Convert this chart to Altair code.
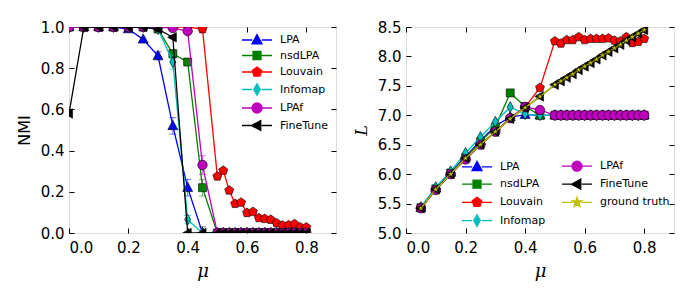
import math
import altair as alt
import pandas as pd

# ---------------- data ----------------
MU = [0.0, 0.05, 0.1, 0.15, 0.2, 0.25, 0.3, 0.35, 0.4, 0.45,
      0.5, 0.52, 0.54, 0.56, 0.58, 0.6, 0.62, 0.64, 0.66, 0.68,
      0.7, 0.72, 0.74, 0.76, 0.78, 0.8]
MU_L = MU[1:]

SERIES_NMI = ["LPA", "nsdLPA", "Louvain", "Infomap", "LPAf", "FineTune"]
SERIES_L = ["LPA", "nsdLPA", "Louvain", "Infomap", "LPAf", "FineTune", "ground truth"]

NMI_LPA = [1.0, 1.0, 1.0, 1.0, 0.99, 0.94, 0.86, 0.52, 0.22, 0.0,
           0.0, 0.0, 0.0, 0.0, 0.0, 0.0, 0.0, 0.0, 0.0, 0.0,
           0.0, 0.0, 0.0, 0.0, 0.0, 0.0]
NMI_NSDLPA = [1.0, 1.0, 1.0, 1.0, 1.0, 1.0, 0.99, 0.87, 0.83, 0.22,
              0.0, 0.0, 0.0, 0.0, 0.0, 0.0, 0.0, 0.0, 0.0, 0.0,
              0.0, 0.0, 0.0, 0.0, 0.0, 0.0]
NMI_LOUVAIN = [1.0, 1.0, 1.0, 1.0, 1.0, 1.0, 1.0, 1.0, 1.0, 0.99,
               0.275, 0.303, 0.207, 0.142, 0.148, 0.098, 0.103, 0.073, 0.069, 0.065,
               0.048, 0.037, 0.039, 0.044, 0.028, 0.028]
NMI_INFOMAP = [1.0, 1.0, 1.0, 1.0, 1.0, 1.0, 0.99, 0.83, 0.065, 0.0,
               0.0, 0.0, 0.0, 0.0, 0.0, 0.0, 0.0, 0.0, 0.0, 0.0,
               0.0, 0.0, 0.0, 0.0, 0.0, 0.0]
NMI_LPAF = [1.0, 1.0, 1.0, 1.0, 1.0, 1.0, 1.0, 0.995, 0.98, 0.33,
            0.0, 0.0, 0.0, 0.0, 0.0, 0.0, 0.0, 0.0, 0.0, 0.0,
            0.0, 0.0, 0.0, 0.0, 0.0, 0.0]
NMI_FINETUNE = [0.58, 1.0, 1.0, 1.0, 1.0, 1.0, 0.99, 0.95, 0.0, 0.0,
                0.0, 0.0, 0.0, 0.0, 0.0, 0.0, 0.0, 0.0, 0.0, 0.0,
                0.0, 0.0, 0.0, 0.0, 0.0, 0.0]

# visible error bars on the NMI panel
ERR_SERIES = ["LPA", "LPA", "LPA", "nsdLPA", "nsdLPA", "Infomap", "Infomap", "LPAf", "FineTune"]
ERR_MU = [0.3, 0.35, 0.4, 0.35, 0.45, 0.35, 0.4, 0.45, 0.45]
ERR_VAL = [0.02, 0.04, 0.04, 0.02, 0.04, 0.035, 0.02, 0.045, 0.03]
ERR_Y = [0.86, 0.52, 0.22, 0.87, 0.22, 0.83, 0.065, 0.33, 0.0]

L_LPA = [5.43, 5.76, 6.03, 6.30, 6.57, 6.82, 6.97, 7.01, 7.00,
         7.0, 7.0, 7.0, 7.0, 7.0, 7.0, 7.0, 7.0, 7.0, 7.0,
         7.0, 7.0, 7.0, 7.0, 7.0, 7.0]
L_NSDLPA = [5.43, 5.75, 6.02, 6.28, 6.55, 6.80, 7.38, 7.15, 7.00,
            7.0, 7.0, 7.0, 7.0, 7.0, 7.0, 7.0, 7.0, 7.0, 7.0,
            7.0, 7.0, 7.0, 7.0, 7.0, 7.0]
L_LOUVAIN = [5.42, 5.74, 6.00, 6.26, 6.50, 6.72, 6.95, 7.14, 7.47,
             8.26, 8.22, 8.28, 8.28, 8.33, 8.28, 8.30, 8.30, 8.30, 8.31,
             8.27, 8.26, 8.33, 8.23, 8.25, 8.30]
L_INFOMAP = [5.44, 5.78, 6.05, 6.36, 6.63, 6.89, 7.14, 7.02, 7.00,
             7.0, 7.0, 7.0, 7.0, 7.0, 7.0, 7.0, 7.0, 7.0, 7.0,
             7.0, 7.0, 7.0, 7.0, 7.0, 7.0]
L_LPAF = [5.42, 5.73, 6.00, 6.25, 6.50, 6.72, 6.95, 7.14, 7.09,
          7.0, 7.0, 7.0, 7.0, 7.0, 7.0, 7.0, 7.0, 7.0, 7.0,
          7.0, 7.0, 7.0, 7.0, 7.0, 7.0]
L_FINETUNE = [5.42, 5.74, 6.00, 6.27, 6.50, 6.72, 6.94, 7.13, 7.32,
              7.52, 7.58, 7.64, 7.70, 7.77, 7.83, 7.89, 7.95, 8.02, 8.08,
              8.14, 8.20, 8.27, 8.33, 8.39, 8.45]
L_TRUTH = [5.42, 5.74, 6.00, 6.27, 6.50, 6.72, 6.94, 7.13, 7.32,
           7.52, 7.58, 7.64, 7.70, 7.77, 7.83, 7.89, 7.95, 8.02, 8.08,
           8.14, 8.20, 8.27, 8.33, 8.39, 8.45]

X_TICKS = [0.0, 0.2, 0.4, 0.6, 0.8]
NMI_TICKS = [0.0, 0.2, 0.4, 0.6, 0.8, 1.0]
L_TICKS = [5.0, 5.5, 6.0, 6.5, 7.0, 7.5, 8.0, 8.5]

# ---------------- styles ----------------
COLORS = {"LPA": "#0000ff", "nsdLPA": "#008000", "Louvain": "#ff0000",
          "Infomap": "#00bfbf", "LPAf": "#bf00bf", "FineTune": "#000000",
          "ground truth": "#bfbf00"}


def poly(pts):
    return "M" + "L".join(f"{x:.3f},{y:.3f}" for x, y in pts) + "Z"


PENT = poly([(math.cos(math.radians(-90 + 72 * k)), math.sin(math.radians(-90 + 72 * k))) for k in range(5)])
STAR = poly([((1.0 if k % 2 == 0 else 0.382) * math.cos(math.radians(-90 + 36 * k)),
              (1.0 if k % 2 == 0 else 0.382) * math.sin(math.radians(-90 + 36 * k))) for k in range(10)])
SHAPES = {
    "LPA": "M0,-1.1L1,0.75L-1,0.75Z",
    "nsdLPA": "M-0.8,-0.8H0.8V0.8H-0.8Z",
    "Louvain": PENT,
    "Infomap": "M0,-1.15L0.65,0L0,1.15L-0.65,0Z",
    "LPAf": "M1,0A1,1 0 1,1 -1,0A1,1 0 1,1 1,0Z",
    "FineTune": "M-1.1,0L0.75,-1L0.75,1Z",
    "ground truth": STAR,
}
SIZES = {"LPA": 100, "nsdLPA": 100, "Louvain": 90, "Infomap": 90, "LPAf": 90,
         "FineTune": 90, "ground truth": 55}

LINE_PART = "M-3,0H-0.95M0.95,0H3"


def legend_path(s):
    return LINE_PART + SHAPES[s]


FONT = "DejaVu Sans"


def long_frame(mu, series, values):
    rows = []
    for s, vals in zip(series, values):
        for m, v in zip(mu, vals):
            rows.append({"mu": m, "v": v, "series": s})
    return pd.DataFrame(rows)


def panel(df, series, ydomain, yticks, ytitle, ytitle_font, ytitle_style,
          legend_domain, legend_cfg, err_df=None):
    xscale = alt.Scale(domain=[0, 0.9], nice=False, zero=False)
    yscale = alt.Scale(domain=ydomain, nice=False, zero=False)
    base = alt.Chart(df)
    layers = []

    # axes carrier (bottom/left)
    layers.append(base.mark_point(opacity=0).encode(
        x=alt.X("mu:Q", scale=xscale, axis=alt.Axis(
            values=X_TICKS, format=".1f", title="μ", offset=-5, tickSize=5,
            domain=False, grid=False, labelPadding=7, titlePadding=7,
            titleFont="DejaVu Serif", titleFontStyle="italic", titleFontSize=18,
            titleFontWeight="normal", labelFont=FONT, labelFontSize=15,
            tickColor="black", labelColor="black", titleColor="black")),
        y=alt.Y("v:Q", scale=yscale, axis=alt.Axis(
            values=yticks, format=".1f", title=ytitle, offset=-5, tickSize=5,
            domain=False, grid=False, labelPadding=5, titlePadding=8,
            titleFont=ytitle_font, titleFontStyle=ytitle_style, titleFontSize=16,
            titleFontWeight="normal", labelFont=FONT, labelFontSize=15,
            tickColor="black", labelColor="black", titleColor="black")),
    ))

    for s in series:
        sub = base.transform_filter(alt.datum.series == s)
        c = COLORS[s]
        if err_df is not None and s in set(err_df["series"]):
            e = alt.Chart(err_df[err_df["series"] == s])
            layers.append(e.mark_rule(color=c, opacity=0.55, strokeWidth=1, clip=True).encode(
                x=alt.X("mu:Q", scale=xscale, axis=None),
                y=alt.Y("lo:Q", scale=yscale, axis=None), y2="hi:Q"))
            layers.append(e.mark_tick(color=c, opacity=0.55, thickness=1, size=7,
                                      orient="horizontal", clip=True).encode(
                x=alt.X("mu:Q", scale=xscale, axis=None),
                y=alt.Y("lo:Q", scale=yscale, axis=None)))
            layers.append(e.mark_tick(color=c, opacity=0.55, thickness=1, size=7,
                                      orient="horizontal", clip=True).encode(
                x=alt.X("mu:Q", scale=xscale, axis=None),
                y=alt.Y("hi:Q", scale=yscale, axis=None)))
        layers.append(sub.mark_line(color=c, strokeWidth=1.3, clip=True).encode(
            x=alt.X("mu:Q", scale=xscale, axis=None),
            y=alt.Y("v:Q", scale=yscale, axis=None)))
        layers.append(sub.mark_point(shape=SHAPES[s], filled=True, fill=c, stroke="black",
                                     strokeWidth=0.6, size=SIZES[s], opacity=1, clip=True).encode(
            x=alt.X("mu:Q", scale=xscale, axis=None),
            y=alt.Y("v:Q", scale=yscale, axis=None)))

    # top / right inward ticks
    layers.append(base.mark_point(opacity=0).encode(
        x=alt.X("mu:Q", scale=xscale, axis=alt.Axis(
            orient="top", values=X_TICKS, labels=False, title=None, offset=-5, tickSize=5,
            domain=False, grid=False, tickColor="black")),
        y=alt.Y("v:Q", scale=yscale, axis=alt.Axis(
            orient="right", values=yticks, labels=False, title=None, offset=-5, tickSize=5,
            domain=False, grid=False, tickColor="black")),
    ))

    # legend carrier (no visible marks)
    leg_scale_fill = alt.Scale(domain=legend_domain, range=[COLORS[s] for s in legend_domain])
    leg_scale_shape = alt.Scale(domain=legend_domain, range=[legend_path(s) for s in legend_domain])
    legend = alt.Legend(title=None, **legend_cfg)
    layers.append(base.transform_filter("false").mark_point(filled=True, opacity=1).encode(
        fill=alt.Fill("series:N", scale=leg_scale_fill, legend=legend),
        stroke=alt.Stroke("series:N", scale=leg_scale_fill, legend=legend),
        shape=alt.Shape("series:N", scale=leg_scale_shape, legend=legend),
    ))

    return alt.layer(*layers).resolve_axis(x="independent", y="independent")


LEG_COMMON = dict(orient="none", labelFont=FONT, labelFontSize=11, labelColor="black",
                  symbolSize=100, symbolStrokeWidth=1.3, symbolOffset=10, symbolOpacity=1,
                  labelOffset=17, padding=0)

nmi_df = long_frame(MU, SERIES_NMI,
                    [NMI_LPA, NMI_NSDLPA, NMI_LOUVAIN, NMI_INFOMAP, NMI_LPAF, NMI_FINETUNE])
err_df = pd.DataFrame({"series": ERR_SERIES, "mu": ERR_MU, "err": ERR_VAL, "y": ERR_Y})
err_df["lo"] = err_df["y"] - err_df["err"]
err_df["hi"] = err_df["y"] + err_df["err"]

l_df = long_frame(MU_L, SERIES_L,
                  [L_LPA, L_NSDLPA, L_LOUVAIN, L_INFOMAP, L_LPAF, L_FINETUNE, L_TRUTH])

left = panel(nmi_df, SERIES_NMI, [0, 1], NMI_TICKS, "NMI", FONT, "normal",
             SERIES_NMI, dict(LEG_COMMON, legendX=172, legendY=7, rowPadding=1.5),
             err_df=err_df).properties(width=267, height=206)

right = panel(l_df, SERIES_L, [5, 8.5], L_TICKS, "L", "DejaVu Serif", "italic",
              SERIES_L, dict(LEG_COMMON, legendX=55, legendY=133, columns=2,
                             columnPadding=13, rowPadding=2.2)).properties(width=268, height=206)

chart = alt.hconcat(left, right, spacing=15).resolve_scale(
    x="independent", y="independent", fill="independent", stroke="independent",
    shape="independent").configure_view(stroke="black", strokeWidth=1).configure(
    padding={"left": 7, "top": 11, "right": 5, "bottom": 5})

chart.save("out.html", embed_options={"renderer": "svg", "actions": False})
